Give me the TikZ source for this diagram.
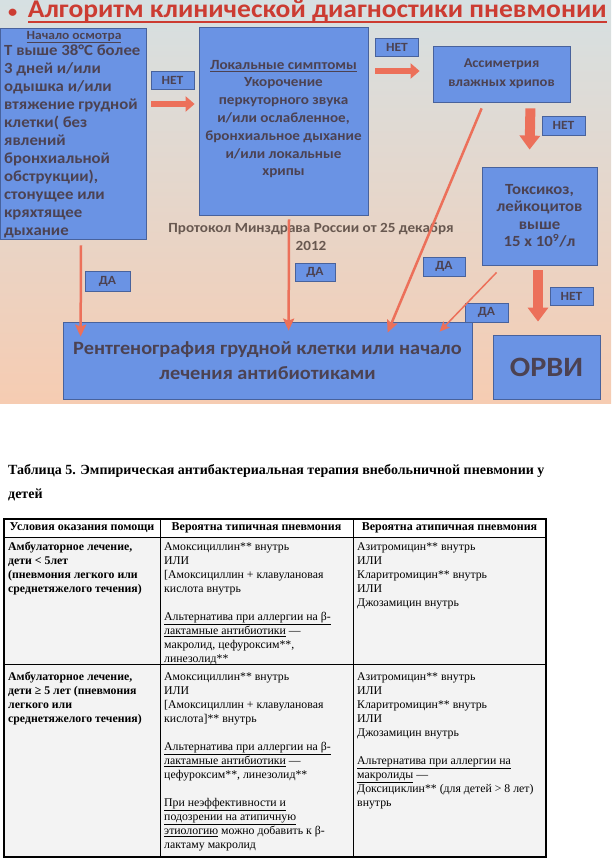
\documentclass[tikz,border=0pt]{standalone}
\usepackage{fontspec}
\setmainfont{Liberation Serif}
\newfontfamily\slidefont[FakeStretch=1.08]{Carlito}
\usepackage{xcolor}
\usepackage{tikz}
\usetikzlibrary{arrows.meta,calc,positioning}
\definecolor{BoxBlue}{RGB}{106,147,228}
\definecolor{BoxEdge}{RGB}{72,98,156}
\definecolor{BoxText}{RGB}{76,66,82}
\definecolor{ArrowRed}{RGB}{236,112,90}
\definecolor{TitleRed}{RGB}{204,60,50}
\definecolor{ProtoText}{RGB}{104,88,80}
\definecolor{SlideTop}{RGB}{214,224,226}
\definecolor{SlideMid}{RGB}{240,228,182}
\definecolor{SlideBottom}{RGB}{246,204,178}
\definecolor{CellGray}{RGB}{243,243,243}

\begin{document}
\begin{tikzpicture}[x=1pt,y=-1pt,>=Latex,
  box/.style={draw=BoxEdge,line width=0.8pt,fill=BoxBlue,inner sep=0pt,
    text=BoxText,align=center,font=\slidefont\bfseries\fontsize{15.5}{17.5}\selectfont},
  boxtext/.style={inner sep=0pt,text=BoxText,font=\slidefont\bfseries\fontsize{14}{18}\selectfont},
  tag/.style={draw=BoxEdge,line width=0.8pt,fill=BoxBlue,inner sep=0pt,text=BoxText,
    font=\slidefont\bfseries\fontsize{12.5}{13}\selectfont,minimum width=43pt,minimum height=18pt},
  noarrow/.style={draw=ArrowRed,line width=6pt,-{Triangle[length=9pt,width=15pt]}},
  nodown/.style={draw=ArrowRed,line width=10pt,-{Triangle[length=14pt,width=20pt]}},
  yesarrow/.style={draw=ArrowRed,line width=2.5pt,-{Stealth[length=12pt,width=11pt,inset=2pt]}},
  yesthin/.style={draw=ArrowRed,line width=1.5pt,-{Stealth[length=10pt,width=9pt,inset=2pt]}},
  head/.style={inner sep=0pt,font=\bfseries\fontsize{12}{13}\selectfont},
  cell/.style={anchor=north west,inner sep=0pt,align=left,font=\fontsize{11.8}{14}\selectfont}]
  \useasboundingbox (0,0) rectangle (611,861);

  \shade[top color=SlideTop,middle color=SlideMid,bottom color=SlideBottom] (0,0) rectangle (611,403);
  \node[anchor=base west,inner sep=0pt,text=TitleRed,font=\slidefont\bfseries\fontsize{25.5}{30}\selectfont]
    (title) at (8,18) {{\fontsize{17}{17}\selectfont•}\, Алгоритм клинической диагностики пневмонии};
  \draw[TitleRed,line width=1.6pt] ([xshift=20pt,yshift=-4pt]title.base west) -- ([yshift=-4pt]title.base east);

  \node[box,minimum width=146pt,minimum height=211pt] (exam) at (73,133.5) {};
  \node[boxtext,font=\slidefont\bfseries\fontsize{12.5}{18}\selectfont] (examhead) at (74,37) {\underline{Начало осмотра}};
  \node[boxtext,anchor=north west,align=left,font=\slidefont\bfseries\fontsize{15.5}{18}\selectfont] (examtext) at (4,45)
    {Т выше 38°С более\\3 дней и/или\\одышка и/или\\втяжение грудной\\клетки( без\\явлений\\бронхиальной\\обструкции),\\стонущее или\\кряхтящее\\дыхание};

  \node[box,minimum width=169pt,minimum height=188pt] (local) at (283.5,121) {};
  \node[boxtext] (localhead) at (283.5,66) {\underline{Локальные симптомы}};
  \node[boxtext,align=center,font=\slidefont\bfseries\fontsize{14}{17.8}\selectfont] (localtext) at (283.5,128)
    {Укорочение\\перкуторного звука\\и/или ослабленное,\\бронхиальное дыхание\\и/или локальные\\хрипы};

  \node[box,minimum width=137pt,minimum height=56pt,font=\slidefont\bfseries\fontsize{13.5}{19}\selectfont]
    (asym) at (501.5,74) {Ассиметрия\\влажных хрипов};
  \node[box,minimum width=115pt,minimum height=98pt] (tox) at (539.5,216)
    {Токсикоз,\\лейкоцитов\\выше\\15 х 10\textsuperscript{9}/л};
  \node[box,minimum width=409pt,minimum height=77pt,font=\slidefont\bfseries\fontsize{18.8}{25}\selectfont]
    (xray) at (267.5,360.5) {Рентгенография грудной клетки или начало\\лечения антибиотиками};
  \node[box,minimum width=107pt,minimum height=64pt,font=\slidefont\bfseries\fontsize{28}{30}\selectfont]
    (orvi) at (546.5,367) {ОРВИ};

  \node[boxtext,align=center,text=ProtoText] (protocol) at (311,237)
    {Протокол Минздрава России от 25 декабря\\2012};

  \node[tag] (no1) at (172.5,80.5) {НЕТ};
  \node[tag] (no2) at (397,47.5) {НЕТ};
  \node[tag,minimum height=19pt] (no3) at (563.5,125.5) {НЕТ};
  \node[tag] (no4) at (571.5,296) {НЕТ};
  \node[tag,minimum width=45pt,minimum height=20pt] (yes1) at (107.5,281) {ДА};
  \node[tag,minimum width=40pt] (yes2) at (315,272) {ДА};
  \node[tag,minimum width=42pt,minimum height=19pt] (yes3) at (444,266.5) {ДА};
  \node[tag,minimum height=19pt] (yes4) at (486.5,312.5) {ДА};

  \draw[noarrow] ($(exam.east)+(5,-29.5)$) -- ($(exam.east -| local.west)+(-4,-29.5)$);
  \draw[noarrow] ($(local.east |- asym.west)+(7,-3)$) -- ($(asym.west)+(-13,-3)$);
  \draw[nodown] ($(asym.south east)+(-40,6)$) -- ($(tox.north west)+(48,-17)$);
  \draw[nodown] ($(tox.south)+(-1.5,5)$) -- ($(orvi.north)+(-8.5,-13)$);
  \draw[yesarrow] ($(exam.south)+(8,6)$) -- ($(xray.north west)+(18,15)$);
  \draw[yesarrow] ($(local.south)+(5.5,4)$) -- ($(xray.north west)+(226,9)$);
  \draw[yesarrow] ($(asym.south west)+(49,6)$) -- ($(xray.north west)+(325,11)$);
  \draw[yesthin] ($(tox.south west)+(15,7)$) -- ($(xray.north west)+(377,10)$);

  \node[anchor=north west,inner sep=0pt,align=left,font=\bfseries\fontsize{14}{24}\selectfont]
    (tabtitle) at (8,464) {Таблица 5. Эмпирическая антибактериальная терапия внебольничной пневмонии у\\детей};

  \fill[CellGray] (4,537) rectangle (546,857);
  \draw[line width=0.8pt] (4,537) -- (546,537) (4,664) -- (546,664)
    (160,519) -- (160,857) (353,519) -- (353,857);
  \draw[line width=1.1pt] (4,519) rectangle (546,857);

  \node[head] (hcond) at (82,528) {Условия оказания помощи};
  \node[head] (htyp) at (256.5,528) {Вероятна типичная пневмония};
  \node[head] (hatyp) at (449.5,528) {Вероятна атипичная пневмония};

  \node[cell,font=\bfseries\fontsize{11.8}{14}\selectfont] (cond1) at (8,540.5)
    {\strut Амбулаторное лечение,\\дети < 5лет\\(пневмония легкого или\\среднетяжелого течения)};
  \node[cell] (typ1) at (164,540.5)
    {\strut Амоксициллин** внутрь\\ИЛИ\\{[}Амоксициллин + клавулановая\\кислота внутрь\\[14pt]
     \underline{Альтернатива при аллергии на β-}\\\underline{лактамные антибиотики} —\\макролид, цефуроксим**,\\линезолид**};
  \node[cell] (atyp1) at (357,540.5)
    {\strut Азитромицин** внутрь\\ИЛИ\\Кларитромицин** внутрь\\ИЛИ\\Джозамицин внутрь};

  \node[cell,font=\bfseries\fontsize{11.8}{14}\selectfont] (cond2) at (8,670.5)
    {\strut Амбулаторное лечение,\\дети ≥ 5 лет (пневмония\\легкого или\\среднетяжелого течения)};
  \node[cell] (typ2) at (164,670.5)
    {\strut Амоксициллин** внутрь\\ИЛИ\\{[}Амоксициллин + клавулановая\\кислота]** внутрь\\[14pt]
     \underline{Альтернатива при аллергии на β-}\\\underline{лактамные антибиотики} —\\цефуроксим**, линезолид**\\[14pt]
     \underline{При неэффективности и}\\\underline{подозрении на атипичную}\\\underline{этиологию} можно добавить к β-\\лактаму макролид};
  \node[cell] (atyp2) at (357,670.5)
    {\strut Азитромицин** внутрь\\ИЛИ\\Кларитромицин** внутрь\\ИЛИ\\Джозамицин внутрь\\[14pt]
     \underline{Альтернатива при аллергии на}\\\underline{макролиды} —\\Доксициклин** (для детей > 8 лет)\\внутрь};
\end{tikzpicture}
\end{document}
